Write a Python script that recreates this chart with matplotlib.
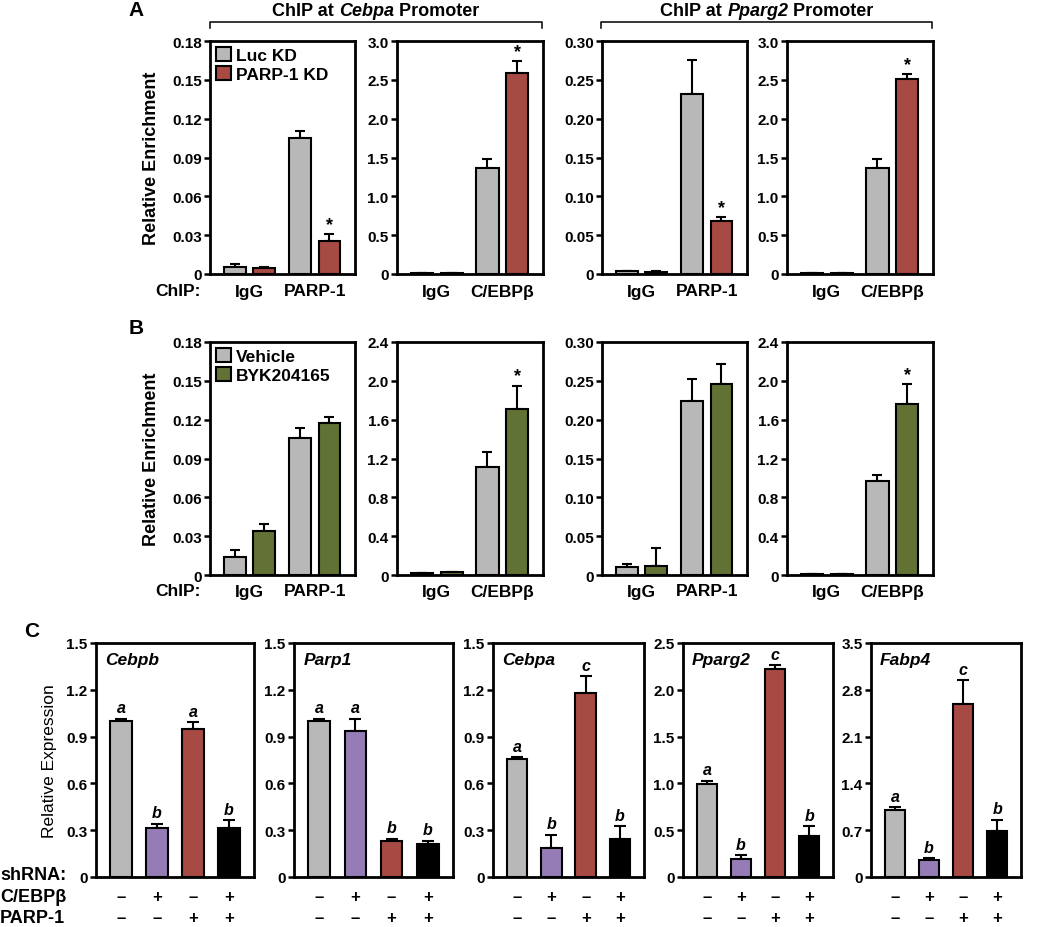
import matplotlib
matplotlib.use('Agg')
import matplotlib.pyplot as plt
from matplotlib.patches import Patch
from matplotlib.lines import Line2D

plt.rcParams['font.family'] = ['Liberation Sans', 'DejaVu Sans']
plt.rcParams['font.weight'] = 'bold'

GRAY = '#b8b8b8'
RED = '#a84a44'
GREEN = '#617234'
PURPLE = '#957cb6'
BLACK = '#000000'

# ---------------- Panel A / B data ----------------
groups_parp = ['IgG', 'PARP-1']
groups_cebpb = ['IgG', 'C/EBPβ']
legend_a = ['Luc KD', 'PARP-1 KD']
legend_b = ['Vehicle', 'BYK204165']

a1_ctrl = [0.0057, 0.1054]; a1_ctrl_err = [0.0020, 0.0054]
a1_trt = [0.0044, 0.0257]; a1_trt_err = [0.0010, 0.0049]
a2_ctrl = [0.012, 1.363]; a2_ctrl_err = [0.004, 0.124]
a2_trt = [0.012, 2.589]; a2_trt_err = [0.004, 0.150]
a3_ctrl = [0.0035, 0.2323]; a3_ctrl_err = [0.0005, 0.0427]
a3_trt = [0.0030, 0.0686]; a3_trt_err = [0.0005, 0.0043]
a4_ctrl = [0.010, 1.367]; a4_ctrl_err = [0.003, 0.112]
a4_trt = [0.010, 2.516]; a4_trt_err = [0.003, 0.055]

b1_ctrl = [0.0136, 0.1057]; b1_ctrl_err = [0.0059, 0.0079]
b1_trt = [0.0337, 0.1175]; b1_trt_err = [0.0054, 0.0049]
b2_ctrl = [0.020, 1.114]; b2_ctrl_err = [0.004, 0.151]
b2_trt = [0.030, 1.714]; b2_trt_err = [0.005, 0.233]
b3_ctrl = [0.0107, 0.2241]; b3_ctrl_err = [0.0034, 0.0288]
b3_trt = [0.0116, 0.2460]; b3_trt_err = [0.0231, 0.0257]
b4_ctrl = [0.006, 0.967]; b4_ctrl_err = [0.002, 0.068]
b4_trt = [0.012, 1.762]; b4_trt_err = [0.003, 0.203]

ticks_018 = [0, 0.03, 0.06, 0.09, 0.12, 0.15, 0.18]
labels_018 = ['0', '0.03', '0.06', '0.09', '0.12', '0.15', '0.18']
ticks_30 = [0, 0.5, 1.0, 1.5, 2.0, 2.5, 3.0]
labels_30 = ['0', '0.5', '1.0', '1.5', '2.0', '2.5', '3.0']
ticks_030 = [0, 0.05, 0.10, 0.15, 0.20, 0.25, 0.30]
labels_030 = ['0', '0.05', '0.10', '0.15', '0.20', '0.25', '0.30']
ticks_24 = [0, 0.4, 0.8, 1.2, 1.6, 2.0, 2.4]
labels_24 = ['0', '0.4', '0.8', '1.2', '1.6', '2.0', '2.4']

# ---------------- Panel C data ----------------
genes = ['Cebpb', 'Parp1', 'Cebpa', 'Pparg2', 'Fabp4']
cebpb_vals = [1.00, 0.312, 0.947, 0.312]; cebpb_err = [0.015, 0.028, 0.045, 0.051]
parp1_vals = [1.00, 0.938, 0.229, 0.214]; parp1_err = [0.015, 0.077, 0.017, 0.019]
cebpa_vals = [0.754, 0.186, 1.177, 0.244]; cebpa_err = [0.015, 0.085, 0.111, 0.083]
pparg2_vals = [0.994, 0.196, 2.226, 0.442]; pparg2_err = [0.036, 0.035, 0.039, 0.099]
fabp4_vals = [1.002, 0.249, 2.588, 0.688]; fabp4_err = [0.045, 0.035, 0.354, 0.170]
cebpb_letters = ['a', 'b', 'a', 'b']
parp1_letters = ['a', 'a', 'b', 'b']
cebpa_letters = ['a', 'b', 'c', 'b']
pparg2_letters = ['a', 'b', 'c', 'b']
fabp4_letters = ['a', 'b', 'c', 'b']
ticks_15 = [0, 0.3, 0.6, 0.9, 1.2, 1.5]
labels_15 = ['0', '0.3', '0.6', '0.9', '1.2', '1.5']
ticks_25 = [0, 0.5, 1.0, 1.5, 2.0, 2.5]
labels_25 = ['0', '0.5', '1.0', '1.5', '2.0', '2.5']
ticks_35 = [0, 0.7, 1.4, 2.1, 2.8, 3.5]
labels_35 = ['0', '0.7', '1.4', '2.1', '2.8', '3.5']
shrna_cebpb = ['–', '+', '–', '+']
shrna_parp1 = ['–', '–', '+', '+']

W, H = 1050, 928
fig = plt.figure(figsize=(W / 100, H / 100), dpi=100)


def rect(x0, x1, ytop, ybot):
    return [x0 / W, 1 - ybot / H, (x1 - x0) / W, (ybot - ytop) / H]


def fx(x):
    return x / W


def fy(y):
    return 1 - y / H


def style_axes(ax, ticks, labels, top, fs=11):
    for s in ax.spines.values():
        s.set_linewidth(2.0)
    ax.set_ylim(0, top)
    ax.set_yticks(ticks)
    ax.set_yticklabels(labels)
    ax.set_xticks([])
    ax.tick_params(axis='y', direction='out', length=4, width=1.8, labelsize=fs, pad=2)


def chip_panel(rc, ctrl, ctrl_err, trt, trt_err, trt_color, groups, ticks, labels,
               star, label_y):
    ax = fig.add_axes(rc)
    xc = [0, 2.2]
    xt = [1, 3.2]
    bw = 0.74
    ax.bar(xc, ctrl, width=bw, color=GRAY, edgecolor='black', linewidth=1.5, zorder=3)
    ax.bar(xt, trt, width=bw, color=trt_color, edgecolor='black', linewidth=1.5, zorder=3)
    for xs, v, e in ((xc, ctrl, ctrl_err), (xt, trt, trt_err)):
        ax.errorbar(xs, v, yerr=[[0] * len(v), e], fmt='none', ecolor='black',
                    elinewidth=1.5, capsize=3.5, capthick=1.5, zorder=2)
    ax.set_xlim(-0.83, 4.06)
    style_axes(ax, ticks, labels, ticks[-1])
    if star:
        ax.annotate('*', (xt[1], trt[1] + trt_err[1]), xytext=(0, 1),
                    textcoords='offset points', ha='center', va='bottom', fontsize=13)
    # group labels
    for gx, g in zip([0.5, 2.7], groups):
        xd = ax.transData.transform((gx, 0))[0]
        xf = fig.transFigure.inverted().transform((xd, 0))[0]
        fig.text(xf, fy(label_y), g, ha='center', va='center', fontsize=12.5)
    return ax


colsAB = [(210, 355), (397, 543), (602, 747), (787, 933)]
rowA = (42, 275)
rowB = (343, 576)

axA = [
    chip_panel(rect(*colsAB[0], *rowA), a1_ctrl, a1_ctrl_err, a1_trt, a1_trt_err, RED,
               groups_parp, ticks_018, labels_018, True, 292),
    chip_panel(rect(*colsAB[1], *rowA), a2_ctrl, a2_ctrl_err, a2_trt, a2_trt_err, RED,
               groups_cebpb, ticks_30, labels_30, True, 292),
    chip_panel(rect(*colsAB[2], *rowA), a3_ctrl, a3_ctrl_err, a3_trt, a3_trt_err, RED,
               groups_parp, ticks_030, labels_030, True, 292),
    chip_panel(rect(*colsAB[3], *rowA), a4_ctrl, a4_ctrl_err, a4_trt, a4_trt_err, RED,
               groups_cebpb, ticks_30, labels_30, True, 292),
]
axB = [
    chip_panel(rect(*colsAB[0], *rowB), b1_ctrl, b1_ctrl_err, b1_trt, b1_trt_err, GREEN,
               groups_parp, ticks_018, labels_018, False, 592),
    chip_panel(rect(*colsAB[1], *rowB), b2_ctrl, b2_ctrl_err, b2_trt, b2_trt_err, GREEN,
               groups_cebpb, ticks_24, labels_24, True, 592),
    chip_panel(rect(*colsAB[2], *rowB), b3_ctrl, b3_ctrl_err, b3_trt, b3_trt_err, GREEN,
               groups_parp, ticks_030, labels_030, False, 592),
    chip_panel(rect(*colsAB[3], *rowB), b4_ctrl, b4_ctrl_err, b4_trt, b4_trt_err, GREEN,
               groups_cebpb, ticks_24, labels_24, True, 592),
]


def add_legend(ax, names, color):
    handles = [Patch(facecolor=GRAY, edgecolor='black', linewidth=1.5),
               Patch(facecolor=color, edgecolor='black', linewidth=1.5)]
    ax.legend(handles, names, loc='upper left', frameon=False, fontsize=12.5,
              handlelength=0.85, handleheight=0.85, handletextpad=0.3,
              labelspacing=0.2, borderaxespad=0.15, borderpad=0.2)


add_legend(axA[0], legend_a, RED)
add_legend(axB[0], legend_b, GREEN)

# y labels, ChIP labels, panel letters
fig.text(fx(152), fy(158.5), 'Relative Enrichment', rotation=90, ha='center',
         va='center', fontsize=13)
fig.text(fx(152), fy(459.5), 'Relative Enrichment', rotation=90, ha='center',
         va='center', fontsize=13)
fig.text(fx(155), fy(292), 'ChIP:', ha='left', va='center', fontsize=12.5)
fig.text(fx(155), fy(592), 'ChIP:', ha='left', va='center', fontsize=12.5)
fig.text(fx(136), fy(10), 'A', ha='center', va='center', fontsize=15)
fig.text(fx(136), fy(328), 'B', ha='center', va='center', fontsize=15)
fig.text(fx(32), fy(632), 'C', ha='center', va='center', fontsize=15)


# brackets + titles
def bracket(x0, x1, y):
    fig.add_artist(Line2D([fx(x0), fx(x0), fx(x1), fx(x1)],
                          [fy(y + 6), fy(y), fy(y), fy(y + 6)],
                          color='black', linewidth=1.1))


bracket(210, 542, 23)
bracket(601, 932, 23)

fig.canvas.draw()
renderer = fig.canvas.get_renderer()


def rich_title(xc, y, parts, fs=13):
    # parts: list of (text, style)
    texts = []
    widths = []
    for t, st in parts:
        tx = fig.text(0, fy(y), t, ha='left', va='center', fontsize=fs, style=st)
        bb = tx.get_window_extent(renderer)
        texts.append(tx)
        widths.append(bb.width)
    total = sum(widths)
    x = xc - total / 2
    for tx, w in zip(texts, widths):
        tx.set_x(fx(x))
        x += w


rich_title(376, 11, [('ChIP at ', 'normal'), ('Cebpa', 'italic'), (' Promoter', 'normal')])
rich_title(767, 11, [('ChIP at ', 'normal'), ('Pparg2', 'italic'), (' Promoter', 'normal')])

# ---------------- Panel C ----------------
colsC = [(96, 254), (294, 453), (493, 644), (683, 833), (871, 1021)]
rowC = (644, 878)
c_vals = [cebpb_vals, parp1_vals, cebpa_vals, pparg2_vals, fabp4_vals]
c_errs = [cebpb_err, parp1_err, cebpa_err, pparg2_err, fabp4_err]
c_letters = [cebpb_letters, parp1_letters, cebpa_letters, pparg2_letters, fabp4_letters]
c_ticks = [(ticks_15, labels_15)] * 3 + [(ticks_25, labels_25), (ticks_35, labels_35)]
c_colors = [GRAY, PURPLE, RED, BLACK]

for i, gene in enumerate(genes):
    ax = fig.add_axes(rect(*colsC[i], *rowC))
    x = [0, 1, 2, 3]
    vals, errs = c_vals[i], c_errs[i]
    ax.bar(x, vals, width=0.6, color=c_colors, edgecolor='black', linewidth=1.5, zorder=3)
    ax.errorbar(x, vals, yerr=[[0] * 4, errs], fmt='none', ecolor='black',
                elinewidth=1.5, capsize=4, capthick=1.5, zorder=2)
    ax.set_xlim(-0.7, 3.7)
    tk, lb = c_ticks[i]
    style_axes(ax, tk, lb, tk[-1], fs=11)
    for xi, v, e, L in zip(x, vals, errs, c_letters[i]):
        ax.annotate(L, (xi, v + e), xytext=(0, 2.5), textcoords='offset points',
                    ha='center', va='bottom', fontsize=11.5, style='italic')
    ax.text(0.06, 0.93, gene, transform=ax.transAxes, ha='left', va='center',
            fontsize=12.5, style='italic')
    for xi, s1, s2 in zip(x, shrna_cebpb, shrna_parp1):
        xd = ax.transData.transform((xi, 0))[0]
        xf = fig.transFigure.inverted().transform((xd, 0))[0]
        fig.text(xf, fy(898), s1, ha='center', va='center', fontsize=12)
        fig.text(xf, fy(919), s2, ha='center', va='center', fontsize=12)

fig.text(fx(50), fy(761), 'Relative Expression', rotation=90, ha='center',
         va='center', fontsize=12.5, fontweight='normal')
fig.text(fx(0), fy(876), 'shRNA:', ha='left', va='center', fontsize=13)
fig.text(fx(0), fy(898), 'C/EBPβ', ha='left', va='center', fontsize=13)
fig.text(fx(0), fy(919), 'PARP-1', ha='left', va='center', fontsize=13)

fig.savefig('out.png', dpi=100)
